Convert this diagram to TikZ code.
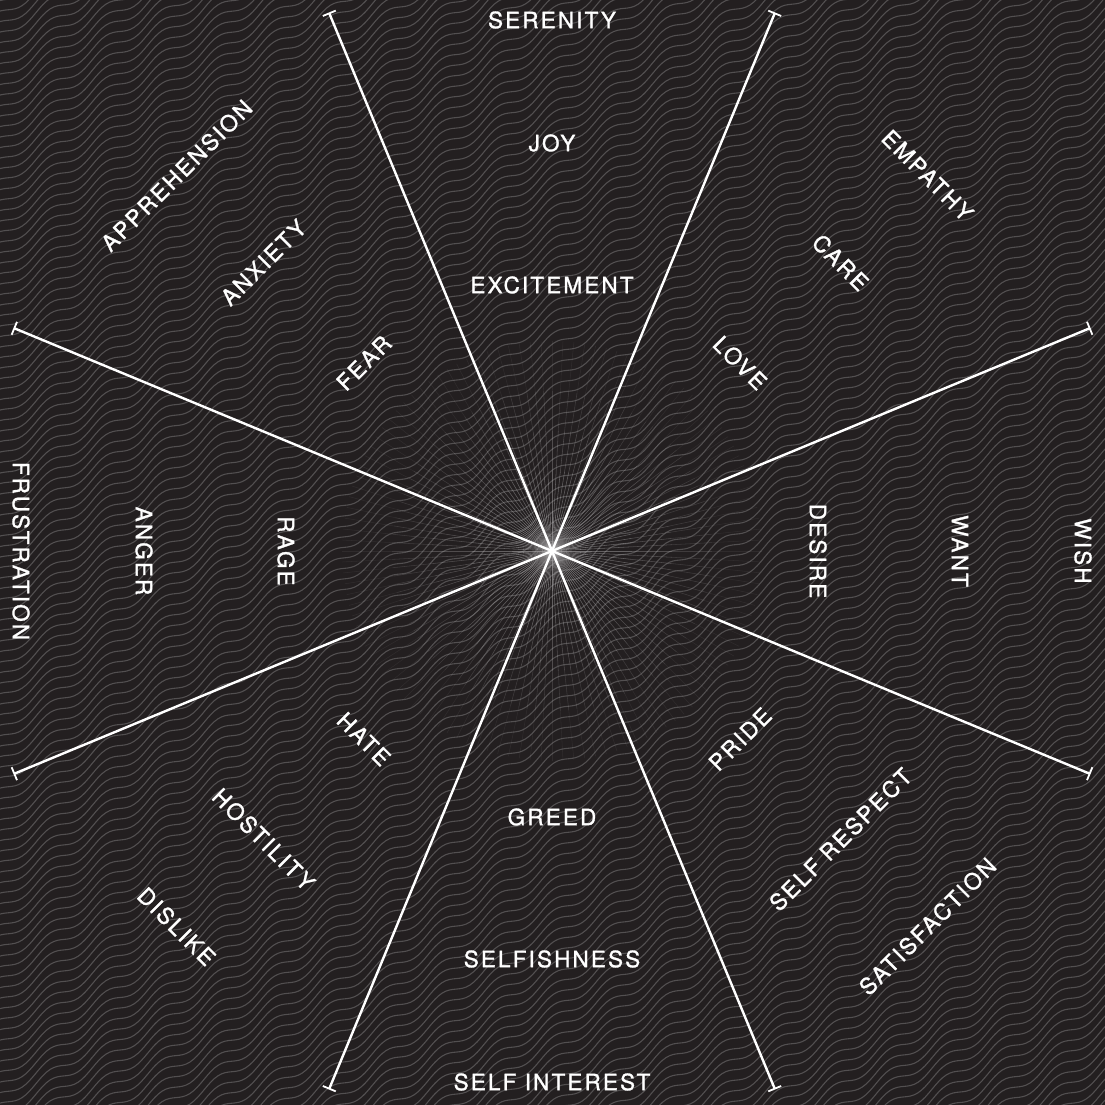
\documentclass[tikz,border=0pt]{standalone}
\usepackage{fontspec}
\setmainfont{TeX Gyre Heros}[FakeBold=1.3]
\usetikzlibrary{calc}
\definecolor{bg}{HTML}{231F20}
\definecolor{wavec}{HTML}{524F50}
\definecolor{raycol}{HTML}{B0AEAF}
\tikzset{
  lbl/.style={text=white, font=\fontsize{22.5}{24}\selectfont\addfontfeature{LetterSpace=9.5}, inner sep=0pt},
  spoke/.style={draw=white, line width=2.4pt},
  capbar/.style={draw=white, line width=1.8pt},
  wave/.style={draw=wavec, line width=1.1pt},
  ray/.style={draw=raycol, line width=0.55pt},
}
\begin{document}
\begin{tikzpicture}[x=1pt,y=1pt]
\useasboundingbox (0,0) rectangle (1105,1104);
\fill[bg] (-6,-6) rectangle (1111,1110);
% wavy background
\begin{scope}
  \clip (-6,-6) rectangle (1111,1110);
  \begin{scope}[yslant=0.65]
    \foreach \c in {-780,-769.5,...,1120} {
      \draw[wave] (-20,\c) \foreach \k in {1,...,21} { sin ++(14,5) cos ++(14,-5) sin ++(14,-5) cos ++(14,5) };
    }
  \end{scope}
\end{scope}
\coordinate (C) at (552,553);
% faint rays near centre
\foreach \a in {0,3,...,357} {
  \draw[ray, opacity=0.6] ($(C)+(\a:2)$) -- ($(C)+(\a:40)$);
  \draw[ray, opacity=0.45] ($(C)+(\a:40)$) -- ($(C)+(\a:80)$);
  \draw[ray, opacity=0.32] ($(C)+(\a:80)$) -- ($(C)+(\a:120)$);
  \draw[ray, opacity=0.2] ($(C)+(\a:120)$) -- ($(C)+(\a:160)$);
  \draw[ray, opacity=0.09] ($(C)+(\a:160)$) -- ($(C)+(\a:210)$);
}
% spokes with end bars
\foreach \a [count=\i] in {22.5,67.5,...,337.5} {
  \pgfmathsetmacro{\ap}{\a+90}
  \pgfmathsetmacro{\am}{\a-90}
  \coordinate (E\i) at ($(C)+(\a:582)$);
  \coordinate (Ea\i) at ($(E\i)+(\ap:7)$);
  \coordinate (Eb\i) at ($(E\i)+(\am:7)$);
  \draw[spoke] (C) -- (E\i);
  \draw[capbar] (Ea\i) -- (Eb\i);
}
% labels
\foreach \nm/\a/\r/\rot/\t in {
  serenity/90/531/0/SERENITY, joy/90/408/0/JOY, excitement/90/266/0/EXCITEMENT,
  empathy/45/531/-45/EMPATHY, care/45/408/-45/CARE, love/45/266/-45/LOVE,
  wish/0/531/-90/WISH, want/0/408/-90/WANT, desire/0/266/-90/DESIRE,
  satisfaction/-45/531/45/SATISFACTION, selfrespect/-45/408/45/SELF RESPECT, pride/-45/266/45/PRIDE,
  selfinterest/-90/531/0/SELF INTEREST, selfishness/-90/408/0/SELFISHNESS, greed/-90/266/0/GREED,
  dislike/-135/531/-45/DISLIKE, hostility/-135/408/-45/HOSTILITY, hate/-135/266/-45/HATE,
  frustration/180/531/-90/FRUSTRATION, anger/180/408/-90/ANGER, rage/180/266/-90/RAGE,
  apprehension/135/531/45/APPREHENSION, anxiety/135/408/45/ANXIETY, fear/135/266/45/FEAR} {
  \node[lbl, rotate=\rot] (\nm) at ($(C)+(\a:\r)$) {\t};
}
\end{tikzpicture}
\end{document}
